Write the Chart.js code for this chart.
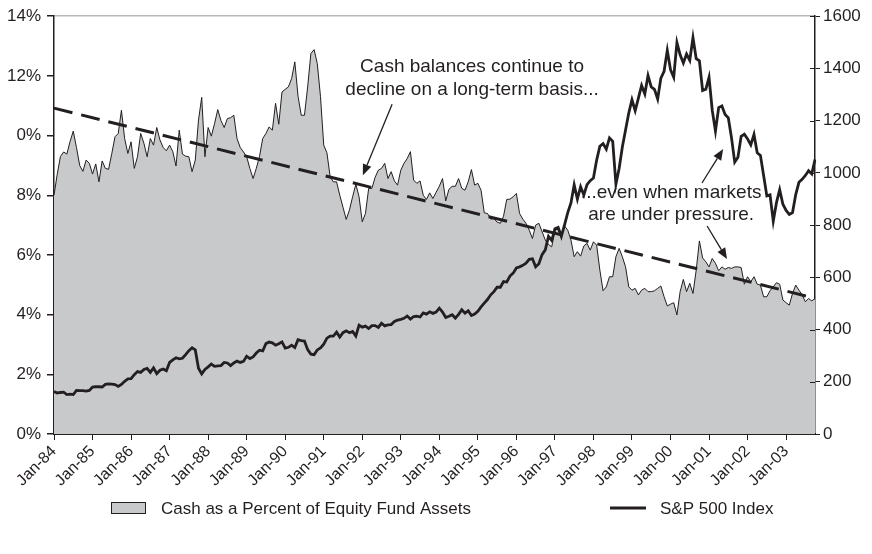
<!DOCTYPE html>
<html>
<head>
<meta charset="utf-8">
<script src="https://cdn.jsdelivr.net/npm/chart.js@4.4.1/dist/chart.umd.min.js"></script>
<style>
  html, body { margin: 0; padding: 0; background: #fff; }
  #wrap { width: 872px; height: 554px; }
</style>
</head>
<body>
<div id="wrap"><canvas id="chart" width="872" height="554"></canvas></div>
<script>
const monthNames = ['Jan', 'Feb', 'Mar', 'Apr', 'May', 'Jun', 'Jul', 'Aug', 'Sep', 'Oct', 'Nov', 'Dec'];
const years = [84, 85, 86, 87, 88, 89, 90, 91, 92, 93, 94, 95, 96, 97, 98, 99, 0, 1, 2, 3];
const monthsInLastYear = 10; // series runs to Oct-03

// cash as % of equity fund assets, monthly
const cashPct = [
  8.0, 8.7, 9.3, 9.45, 9.38, 9.8, 10.15, 9.6, 9.0, 8.8, 9.18, 9.07,        // 1984
  8.71, 9.05, 8.45, 9.15, 8.9, 8.87, 9.4, 9.96, 10.07, 10.85, 9.9, 9.4,    // 1985
  9.79, 8.9, 9.29, 10.07, 9.74, 9.29, 9.9, 9.68, 10.27, 9.85, 9.6, 9.49,   // 1986
  9.68, 9.46, 8.98, 10.18, 9.38, 9.31, 9.29, 8.79, 9.18, 10.52, 11.28, 9.29, // 1987
  10.27, 9.98, 10.4, 10.87, 10.5, 10.27, 10.57, 10.6, 10.68, 9.9, 9.6, 9.45, // 1988
  9.29, 8.9, 8.56, 8.9, 9.3, 9.9, 10.07, 10.29, 10.18, 11.08, 10.38, 11.46, // 1989
  11.55, 11.63, 11.91, 12.47, 11.32, 10.68, 10.68, 11.63, 12.75, 12.88, 12.41, 11.3, // 1990
  9.68, 9.42, 8.62, 8.45, 8.45, 8.0, 7.6, 7.19, 7.5, 7.95, 8.37, 7.95,     // 1991
  7.11, 7.39, 8.23, 8.23, 8.6, 8.84, 8.9, 9.07, 8.56, 8.79, 8.48, 8.34,    // 1992
  8.84, 9.07, 9.23, 9.46, 8.51, 8.4, 8.48, 8.0, 7.86, 8.08, 7.89, 8.1,     // 1993
  8.3, 8.56, 7.81, 8.2, 8.3, 8.3, 8.56, 8.23, 8.17, 8.45, 8.86, 8.34,      // 1994
  8.4, 8.17, 7.41, 7.39, 7.2, 7.22, 7.1, 7.06, 7.3, 7.86, 7.87, 7.95,      // 1995
  8.06, 7.39, 7.2, 7.06, 6.83, 6.55, 7.0, 7.06, 6.78, 6.5, 6.35, 6.27,     // 1996
  6.81, 6.89, 6.7, 6.97, 6.83, 6.5, 5.94, 6.11, 5.96, 6.3, 6.39, 6.16,     // 1997
  6.44, 6.33, 5.49, 4.8, 4.93, 5.27, 5.27, 5.94, 6.22, 5.94, 5.6, 4.93,    // 1998
  4.82, 4.88, 4.66, 4.82, 4.88, 4.77, 4.77, 4.8, 4.88, 4.96, 4.6, 4.29,    // 1999
  4.35, 4.4, 3.99, 4.77, 5.18, 4.77, 5.05, 4.71, 5.49, 6.47, 5.9, 5.77,    // 2000
  5.6, 5.88, 5.72, 5.47, 5.6, 5.52, 5.58, 5.55, 5.6, 5.6, 5.58, 5.02,      // 2001
  5.27, 5.1, 5.27, 5.02, 4.99, 4.6, 4.6, 4.8, 4.93, 5.07, 5.02, 4.49,      // 2002
  4.4, 4.32, 4.71, 4.99, 4.82, 4.66, 4.43, 4.54, 4.46, 4.54                // 2003
];

// S&P 500 month-end level
const sp500 = [
  163, 157, 159, 160, 151, 153, 151, 167, 166, 166, 164, 167,
  180, 181, 181, 180, 190, 192, 191, 189, 182, 190, 202, 211,
  212, 227, 239, 236, 247, 251, 236, 253, 231, 244, 249, 242,
  274, 284, 292, 288, 290, 304, 319, 330, 322, 252, 230, 247,
  257, 268, 259, 261, 262, 274, 272, 262, 272, 279, 274, 278,
  298, 289, 295, 310, 321, 318, 346, 352, 349, 340, 346, 353,
  329, 332, 340, 331, 361, 358, 356, 323, 306, 304, 322, 330,
  344, 367, 375, 375, 390, 371, 388, 395, 388, 393, 375, 417,
  409, 413, 404, 415, 415, 408, 424, 414, 418, 419, 431, 436,
  439, 443, 452, 440, 450, 451, 448, 464, 459, 468, 462, 467,
  482, 467, 446, 451, 457, 444, 458, 476, 463, 472, 454, 459,
  470, 487, 501, 515, 533, 545, 562, 562, 584, 582, 605, 616,
  636, 640, 646, 654, 669, 671, 640, 652, 687, 705, 757, 741,
  786, 791, 757, 801, 848, 885, 954, 900, 947, 915, 955, 970,
  980, 1049, 1102, 1112, 1091, 1134, 1121, 957, 1017, 1099, 1164, 1229,
  1280, 1238, 1286, 1335, 1302, 1373, 1329, 1320, 1283, 1363, 1389, 1469,
  1395, 1366, 1499, 1452, 1421, 1455, 1431, 1518, 1437, 1429, 1315, 1320,
  1366, 1240, 1160, 1250, 1256, 1224, 1211, 1134, 1041, 1060, 1140, 1148,
  1130, 1107, 1147, 1077, 1067, 990, 912, 916, 815, 886, 936, 880,
  856, 841, 848, 917, 964, 975, 990, 1008, 996, 1051
];

const trendEnds = [10.92, 4.55];
const pctTicks = [0, 2, 4, 6, 8, 10, 12, 14];
const pctTickText = ['0%', '2%', '4%', '6%', '8%', '0%', '12%', '14%'];

const labels = [];
years.forEach((y, yi) => {
  const n = yi === years.length - 1 ? monthsInLastYear : 12;
  for (let m = 0; m < n; m++) {
    labels.push(monthNames[m] + '-' + String(y).padStart(2, '0'));
  }
});

// annotation text and arrows, placed in data units (month index, % on left axis)
const notes = [
  { lines: ['Cash balances continue to', 'decline on a long-term basis...'], at: 130.2, pct: [12.29, 11.55] },
  { lines: ['...even when markets', 'are under pressure.'], at: 192.2, pct: [8.07, 7.33] }
];
const arrows = [
  { from: [105.3, 11.05], to: [96.2, 8.67] },
  { from: [201.8, 8.41], to: [208.4, 9.55] },
  { from: [203.4, 6.97], to: [209.6, 5.86] }
];

const ink = '#231f20';
const areaGrey = '#c8c9cb';
const fontFamily = '"Liberation Sans", Arial, Helvetica, sans-serif';
Chart.defaults.font.family = fontFamily;
Chart.defaults.color = ink;

function drawArrow(ctx, x1, y1, x2, y2) {
  const ang = Math.atan2(y2 - y1, x2 - x1);
  const len = 11, half = 4.5;
  const bx = x2 - len * Math.cos(ang), by = y2 - len * Math.sin(ang);
  ctx.beginPath();
  ctx.moveTo(x1, y1);
  ctx.lineTo(bx, by);
  ctx.stroke();
  ctx.beginPath();
  ctx.moveTo(x2, y2);
  ctx.lineTo(bx + half * Math.sin(ang), by - half * Math.cos(ang));
  ctx.lineTo(bx - half * Math.sin(ang), by + half * Math.cos(ang));
  ctx.closePath();
  ctx.fill();
}

const overlay = {
  id: 'overlay',
  afterDraw(chart) {
    const ctx = chart.ctx;
    const x = chart.scales.x, y = chart.scales.y, y2 = chart.scales.y2;
    ctx.save();

    // inner half of the right axis tick marks
    ctx.strokeStyle = ink;
    ctx.lineWidth = 1;
    y2.ticks.forEach(t => {
      const py = Math.round(y2.getPixelForValue(t.value)) + 0.5;
      ctx.beginPath();
      ctx.moveTo(y2.left - 5, py);
      ctx.lineTo(y2.left, py);
      ctx.stroke();
    });

    // annotations
    ctx.fillStyle = ink;
    ctx.font = '19px ' + fontFamily;
    ctx.textAlign = 'center';
    ctx.textBaseline = 'middle';
    notes.forEach(n => {
      n.lines.forEach((line, i) => {
        ctx.fillText(line, x.getPixelForValue(n.at), y.getPixelForValue(n.pct[i]));
      });
    });
    ctx.lineWidth = 1.3;
    arrows.forEach(a => {
      drawArrow(ctx,
        x.getPixelForValue(a.from[0]), y.getPixelForValue(a.from[1]),
        x.getPixelForValue(a.to[0]), y.getPixelForValue(a.to[1]));
    });

    // legend
    const cash = chart.data.datasets[2], sp = chart.data.datasets[0];
    ctx.font = '17px ' + fontFamily;
    ctx.textAlign = 'left';
    ctx.fillStyle = cash.backgroundColor;
    ctx.fillRect(111, 502, 35, 12);
    ctx.strokeStyle = ink;
    ctx.lineWidth = 1;
    ctx.strokeRect(111.5, 502.5, 34, 11);
    ctx.fillStyle = ink;
    ctx.fillText(cash.label, 161, 509);
    ctx.strokeStyle = sp.borderColor;
    ctx.lineWidth = 3;
    ctx.beginPath();
    ctx.moveTo(610, 508);
    ctx.lineTo(646, 508);
    ctx.stroke();
    ctx.fillText(sp.label, 660, 509);
    ctx.restore();
  }
};

new Chart(document.getElementById('chart'), {
  type: 'line',
  data: {
    labels: labels,
    datasets: [
      {
        label: 'S&P 500 Index',
        data: sp500,
        yAxisID: 'y2',
        borderColor: ink,
        borderWidth: 2.8,
        pointRadius: 0,
        fill: false,
        tension: 0
      },
      {
        label: 'Trend',
        data: [{ x: labels[0], y: trendEnds[0] }, { x: labels[labels.length - 1], y: trendEnds[1] }],
        yAxisID: 'y',
        borderColor: ink,
        borderWidth: 3,
        borderDash: [19, 9],
        pointRadius: 0,
        fill: false
      },
      {
        label: 'Cash as a Percent of Equity Fund Assets',
        data: cashPct,
        yAxisID: 'y',
        borderColor: ink,
        borderWidth: 1,
        backgroundColor: areaGrey,
        fill: 'origin',
        pointRadius: 0,
        tension: 0
      }
    ]
  },
  options: {
    responsive: false,
    animation: false,
    layout: { padding: { top: 16, left: 0, right: 0, bottom: 0 } },
    plugins: {
      legend: { display: false },
      tooltip: { enabled: false }
    },
    scales: {
      x: {
        type: 'category',
        offset: false,
        grid: {
          drawOnChartArea: false,
          tickLength: 6,
          tickColor: c => (c.index % 12 === 0 ? ink : 'transparent')
        },
        border: { color: ink, width: 2 },
        ticks: {
          autoSkip: false,
          minRotation: 45,
          maxRotation: 45,
          padding: 2,
          color: ink,
          font: { size: 16 },
          callback: (v, i) => (i % 12 === 0 ? labels[i] : '')
        },
        afterFit: s => { s.height = 120; }
      },
      y: {
        position: 'left',
        min: 0,
        max: 14,
        afterBuildTicks: s => { s.ticks = pctTicks.map(v => ({ value: v })); },
        ticks: {
          padding: 6,
          color: ink,
          font: { size: 17 },
          callback: (v, i) => pctTickText[i]
        },
        grid: {
          color: c => (c.tick && c.tick.value === 14 ? '#b8b8b8' : 'transparent'),
          lineWidth: 1.5,
          tickColor: ink,
          tickLength: 7
        },
        border: { color: ink, width: 1.5 },
        afterFit: s => { s.width = 54; }
      },
      y2: {
        position: 'right',
        min: 0,
        max: 1600,
        ticks: { stepSize: 200, padding: 3, color: ink, font: { size: 17 }, callback: v => String(v) },
        grid: { drawOnChartArea: false, tickColor: ink, tickLength: 5 },
        border: { color: ink, width: 1.5 },
        afterFit: s => { s.width = 57; }
      }
    }
  },
  plugins: [overlay]
});
</script>
</body>
</html>
